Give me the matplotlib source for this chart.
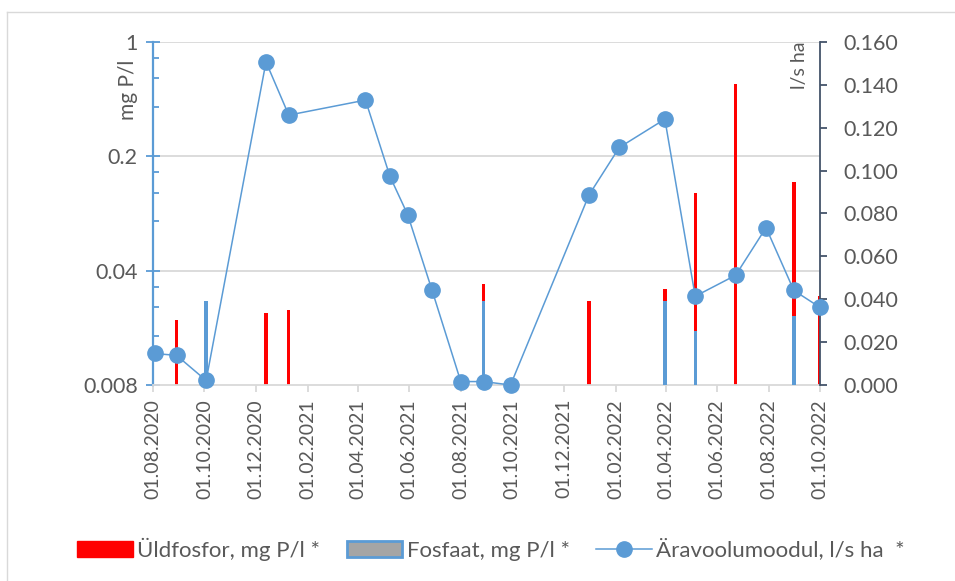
import matplotlib
matplotlib.use("Agg")
import matplotlib.pyplot as plt
import matplotlib.dates as mdates
from matplotlib.lines import Line2D
from matplotlib.patches import Patch
import numpy as np
import datetime as dt

# Sampling dates
sample_dates = ["2020-08-03", "2020-08-29", "2020-10-03", "2020-12-13", "2021-01-09",
                "2021-04-10", "2021-05-09", "2021-05-30", "2021-06-28", "2021-08-01",
                "2021-08-28", "2021-09-29", "2021-12-31", "2022-02-05", "2022-03-31",
                "2022-05-06", "2022-06-23", "2022-07-29", "2022-08-31", "2022-10-01"]

# Runoff modulus, l/s ha
runoff = [0.0147, 0.0138, 0.0021, 0.1507, 0.1259, 0.1329, 0.0973, 0.0795, 0.0441, 0.0016,
          0.0016, 0.0000, 0.0886, 0.1108, 0.1240, 0.0414, 0.0512, 0.0734, 0.0441, 0.0362]

nan = np.nan
# Total phosphorus, mg P/l
total_p = [nan, 0.020, 0.026, 0.022, 0.023, nan, nan, nan, nan, nan,
           0.033, nan, 0.026, nan, 0.031, 0.12, 0.55, nan, 0.14, 0.028]
# Phosphate, mg P/l
phosphate = [nan, nan, 0.026, nan, nan, nan, nan, nan, nan, nan,
             0.026, nan, nan, nan, 0.026, 0.017, nan, nan, 0.021, nan]

left_ticks = [0.008, 0.04, 0.2, 1]
left_tick_labels = ["0.008", "0.04", "0.2", "1"]
left_minor = [0.016, 0.024, 0.032, 0.08, 0.12, 0.16, 0.4, 0.6, 0.8]
right_ticks = [0.0, 0.02, 0.04, 0.06, 0.08, 0.10, 0.12, 0.14, 0.16]

FONT = "Lato"
TXT = "#595959"
BLUE = "#5b9bd5"
RED = "#ff0000"
GRID = "#d9d9d9"
DARK = "#44546a"

plt.rcParams["font.family"] = [FONT, "DejaVu Sans"]

W, H = 955, 581
fig = plt.figure(figsize=(W / 100, H / 100), dpi=100)

# chart area border (top and left edges)
fig.add_artist(Line2D([7 / W, 1], [1 - 12 / H, 1 - 12 / H], color=GRID, lw=1.0))
fig.add_artist(Line2D([7 / W, 7 / W], [0, 1 - 12 / H], color=GRID, lw=1.0))

x0, x1, yb, yt = 153, 820, 385, 42
ax = fig.add_axes([x0 / W, 1 - yb / H, (x1 - x0) / W, (yb - yt) / H])

d = mdates.date2num([dt.datetime.strptime(s, "%Y-%m-%d") for s in sample_dates])
tp = np.array(total_p)
po = np.array(phosphate)
base = 0.008
bw = 4.0

m = ~np.isnan(tp)
ax.bar(d[m], tp[m] - base, bottom=base, width=bw, color=RED, zorder=2)
m = ~np.isnan(po)
ax.bar(d[m], po[m] - base, bottom=base, width=bw, color=BLUE, zorder=3)

ax.set_yscale("log", base=5)
ax.set_ylim(0.008, 1)
ax.set_yticks(left_ticks)
ax.set_yticklabels(left_tick_labels)
ax.set_yticks(left_minor, minor=True)
ax.set_yticklabels([], minor=True)
for v in [0.04, 0.2, 1]:
    ax.axhline(v, color=GRID, lw=1.3, zorder=0)

xmin = mdates.date2num(dt.datetime(2020, 8, 1))
xmax = mdates.date2num(dt.datetime(2022, 10, 1))
ax.set_xlim(xmin, xmax)
xt = []
y, mo = 2020, 8
while (y, mo) <= (2022, 10):
    xt.append(dt.datetime(y, mo, 1))
    mo += 2
    if mo > 12:
        mo -= 12
        y += 1
ax.set_xticks(mdates.date2num(xt))
ax.set_xticklabels([t.strftime("%d.%m.%Y") for t in xt], rotation=90,
                   fontsize=14, color=TXT)

for s in ["top", "right"]:
    ax.spines[s].set_visible(False)
ax.spines["left"].set_color(BLUE)
ax.spines["left"].set_linewidth(1.6)
ax.spines["bottom"].set_color(GRID)
ax.spines["bottom"].set_linewidth(1.3)
ax.tick_params(axis="y", which="major", direction="inout", length=10, width=1.3,
               color=BLUE, labelsize=15.5, labelcolor=TXT, pad=6)
ax.tick_params(axis="y", which="minor", direction="in", length=4.5, width=1.3, color=BLUE)
ax.tick_params(axis="x", direction="out", length=5, width=1.3, color=GRID, pad=5)

ax2 = ax.twinx()
ax2.plot(d, runoff, color=BLUE, lw=1.1, marker="o", markersize=11,
         markeredgecolor=BLUE, clip_on=False, zorder=5)
ax2.set_ylim(0, 0.16)
ax2.set_yticks(right_ticks)
ax2.set_yticklabels([f"{v:.3f}" for v in right_ticks])
for s in ["top", "left", "bottom"]:
    ax2.spines[s].set_visible(False)
ax2.spines["right"].set_color(DARK)
ax2.spines["right"].set_linewidth(1.3)
ax2.tick_params(axis="y", direction="out", length=5, width=1.3, color=DARK,
                labelsize=15.5, labelcolor=TXT, pad=12)

fig.text(128 / W, 1 - 90 / H, "mg P/l", rotation=90, ha="center", va="center",
         fontsize=15, color=TXT)
fig.text(799 / W, 1 - 65 / H, "l/s ha", rotation=90, ha="center", va="center",
         fontsize=14, color=TXT)

handles = [
    Patch(facecolor=RED, edgecolor=RED),
    Patch(facecolor="#a5a5a5", edgecolor=BLUE, linewidth=2),
    Line2D([], [], color=BLUE, lw=1.1, marker="o", markersize=11),
]
labels = ["Üldfosfor, mg P/l *", "Fosfaat, mg P/l *", "Äravoolumoodul, l/s ha  *"]
fig.legend(handles, labels, loc="center", bbox_to_anchor=(491 / W, 1 - 549 / H),
           ncol=3, frameon=False, fontsize=16, labelcolor=TXT,
           handlelength=2.5, handleheight=0.7, handletextpad=0.2, columnspacing=1.2)

fig.savefig("out.png", dpi=100)
